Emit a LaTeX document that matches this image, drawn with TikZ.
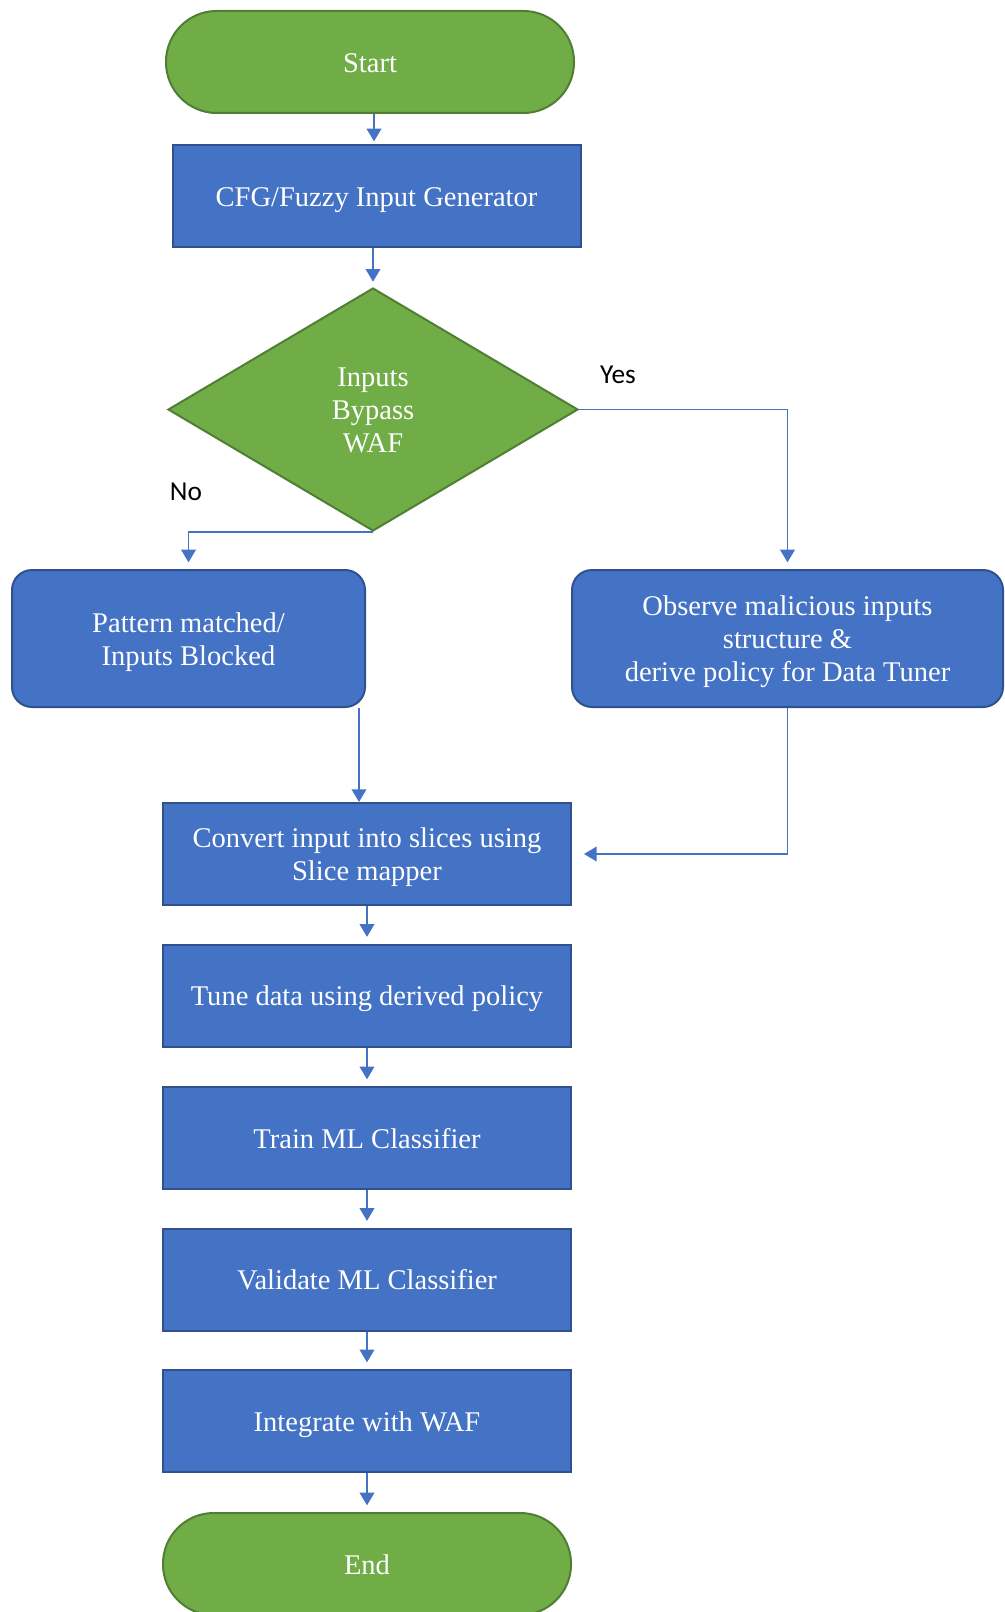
\documentclass[tikz,border=0pt]{standalone}
\usepackage{fontspec}
\setmainfont{Liberation Serif}
\newfontfamily\labelfont{Carlito}
\usetikzlibrary{shapes.geometric,arrows.meta,calc}
\definecolor{boxblue}{HTML}{4472C4}
\definecolor{boxedge}{HTML}{2F528F}
\definecolor{termgreen}{HTML}{70AD47}
\definecolor{termedge}{HTML}{507E32}
\definecolor{linkblue}{HTML}{4472C4}
% invisible strut giving every text line the same ascent and descent
\newcommand\linestrut{\rule[-4.2pt]{0pt}{23.9pt}}
\begin{document}
\begin{tikzpicture}[x=0.75pt,y=-0.75pt,
  base/.style={draw, line width=1.5pt, text=white, align=center, inner sep=0pt,
    font=\fontsize{21.4pt}{24.7pt}\selectfont},
  process/.style={base, rectangle, fill=boxblue, draw=boxedge,
    minimum width=306pt, minimum height=76.5pt},
  roundbox/.style={base, rectangle, fill=boxblue, draw=boxedge, rounded corners=15pt,
    minimum height=102.75pt},
  terminal/.style={base, rectangle, fill=termgreen, draw=termedge, rounded corners=38pt,
    minimum width=306pt, minimum height=76.5pt},
  decision/.style={base, diamond, fill=termgreen, draw=termedge, aspect=1.687,
    minimum width=307.5pt, minimum height=182.25pt},
  branchlabel/.style={anchor=base, inner sep=0pt, font=\labelfont\fontsize{20.5pt}{24pt}\selectfont},
  conn/.style={draw=linkblue, line width=1.1pt, -{Triangle[width=11pt,length=9.5pt]}}
]
\useasboundingbox (0,0) rectangle (1005,1612);

% main column
\node[terminal] (start) at (370,62) {\linestrut Start};
\node[process] (cfg) at (376.5,196) {\linestrut CFG/Fuzzy Input Generator};
\node[decision] (dec) at (373,409.5) {\linestrut Inputs\\\linestrut Bypass\\\linestrut WAF};
\node[roundbox, minimum width=264.75pt] (pattern) at (188.5,638.5) {\linestrut Pattern matched/\\\linestrut Inputs Blocked};
\node[roundbox, minimum width=323.25pt] (observe) at (787.5,638.5) {\linestrut Observe malicious inputs\\\linestrut structure \&\\\linestrut derive policy for Data Tuner};
\node[process] (convert) at (367,854) {\linestrut Convert input into slices using\\\linestrut Slice mapper};
\node[process] (tune) at (367,995.5) {\linestrut Tune data using derived policy};
\node[process] (train) at (367,1138) {\linestrut Train ML Classifier};
\node[process] (validate) at (367,1279.5) {\linestrut Validate ML Classifier};
\node[process] (integrate) at (367,1421) {\linestrut Integrate with WAF};
\node[terminal] (finish) at (367,1564) {\linestrut End};

% branch labels
\node[branchlabel] (yes) at (618,383) {Yes};
\node[branchlabel] (no) at (186,500) {No};

% connectors
\coordinate (sdrop) at ($(start.south)+(4,0)$);
\draw[conn, shorten >=2pt] (sdrop) -- (sdrop |- cfg.north);
\draw[conn, shorten >=4pt] (cfg.south -| dec.north) -- (dec.north);
\draw[conn, shorten >=5pt] (dec.south) -| (pattern.north);
\draw[conn, shorten >=5pt] (dec.east) -| (observe.north);
\coordinate (pdrop) at ($(pattern.south east)+(-7,0)$);
\draw[conn] (pdrop) -- (pdrop |- convert.north);
\coordinate (ctarget) at ($(convert.east)+(12,0)$);
\draw[conn] (observe.south) |- (ctarget);
\draw[conn, shorten >=5pt] (convert) -- (tune);
\draw[conn, shorten >=5pt] (tune) -- (train);
\draw[conn, shorten >=5pt] (train) -- (validate);
\draw[conn, shorten >=5pt] (validate) -- (integrate);
\draw[conn, shorten >=5pt] (integrate) -- (finish);
\end{tikzpicture}
\end{document}
